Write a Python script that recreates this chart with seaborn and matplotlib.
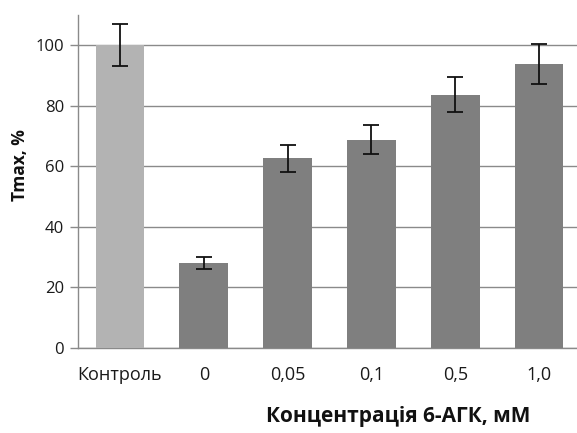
import matplotlib
matplotlib.use("Agg")
import matplotlib.pyplot as plt
import seaborn as sns
import pandas as pd
import numpy as np

categories = ["Контроль", "0", "0,05", "0,1", "0,5", "1,0"]
values = [100, 28, 62.7, 68.8, 83.7, 93.8]
errors = [7, 2, 4.4, 4.8, 5.7, 6.5]
bar_colors = ["#b3b3b3", "#7f7f7f", "#7f7f7f", "#7f7f7f", "#7f7f7f", "#7f7f7f"]
y_ticks = [0, 20, 40, 60, 80, 100]

sns.set_style("white")
plt.rcParams["font.family"] = ["Open Sans", "DejaVu Sans"]

df = pd.DataFrame({"group": categories, "value": values})

fig = plt.figure(figsize=(5.77, 4.33), dpi=100)
ax = fig.add_axes([78 / 577, 85 / 433, 503 / 577, 333 / 433])

sns.barplot(data=df, x="group", y="value", hue="group", palette=bar_colors,
            order=categories, hue_order=categories, legend=False,
            width=0.58, errorbar=None, ax=ax, zorder=3, linewidth=0)

ax.errorbar(np.arange(len(categories)), values, yerr=errors, fmt="none",
            ecolor="#111111", elinewidth=1.3, capsize=6, capthick=1.3, zorder=4)

ax.set_ylim(0, 110)
ax.set_xlim(-0.5, len(categories) - 0.5)
ax.set_yticks(y_ticks)
ax.yaxis.grid(True, color="#8a8a8a", linewidth=1.0, zorder=0)
ax.set_axisbelow(True)

for side in ["top", "right"]:
    ax.spines[side].set_visible(False)
for side in ["left", "bottom"]:
    ax.spines[side].set_color("#8a8a8a")
    ax.spines[side].set_linewidth(1.0)

ax.set_xticks(np.arange(-0.5, len(categories)), minor=True)
ax.tick_params(axis="x", which="major", length=0, pad=13, labelsize=13, colors="#1a1a1a")
ax.tick_params(axis="x", which="minor", length=5, width=1.0, color="#8a8a8a", direction="out")
ax.tick_params(axis="y", which="major", length=6, width=1.0, color="#8a8a8a",
               direction="out", pad=4, labelsize=12, labelcolor="#1a1a1a", left=True)

ax.set_xlabel("")
ax.set_ylabel("")
fig.text(20 / 577, 1 - 165 / 433, "Tmax, %", fontsize=12.5, fontweight="bold",
         rotation=90, ha="center", va="center", color="#111111")
fig.text(398 / 577, 1 - 422 / 433, "Концентрація 6-АГК, мМ", fontsize=15,
         fontweight="bold", ha="center", va="baseline", color="#111111")

fig.savefig("out.png", dpi=100)
